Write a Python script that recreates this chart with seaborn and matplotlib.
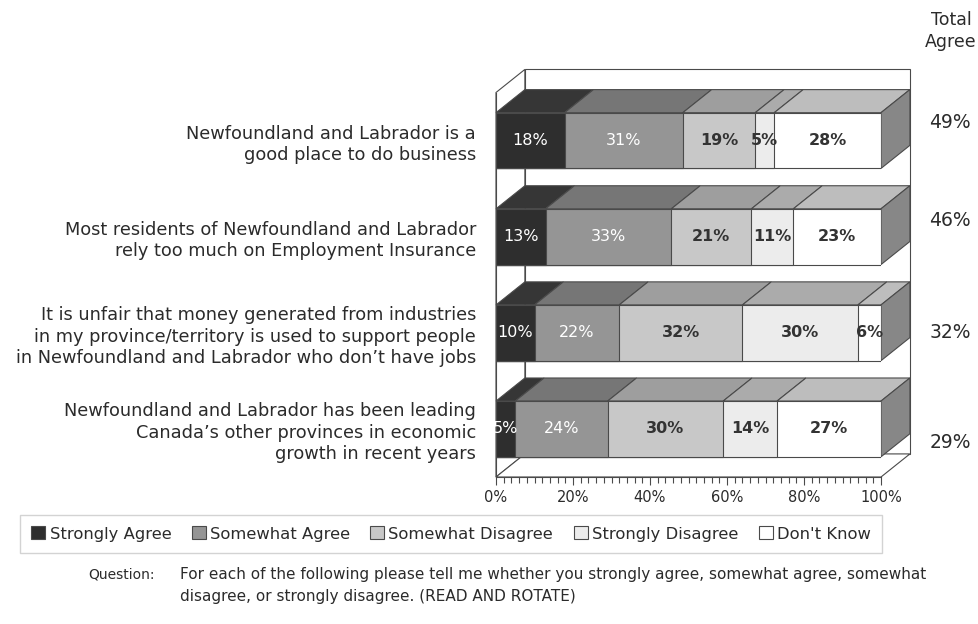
import numpy as np
import pandas as pd
import matplotlib
matplotlib.use("Agg")
import matplotlib.pyplot as plt
from matplotlib.patches import Polygon, Patch
import seaborn as sns

categories = [
    "Newfoundland and Labrador is a\ngood place to do business",
    "Most residents of Newfoundland and Labrador\nrely too much on Employment Insurance",
    "It is unfair that money generated from industries\nin my province/territory is used to support people\nin Newfoundland and Labrador who don\u2019t have jobs",
    "Newfoundland and Labrador has been leading\nCanada\u2019s other provinces in economic\ngrowth in recent years",
]
series_names = ["Strongly Agree", "Somewhat Agree", "Somewhat Disagree",
                "Strongly Disagree", "Don't Know"]
strongly_agree = [18, 13, 10, 5]
somewhat_agree = [31, 33, 22, 24]
somewhat_disagree = [19, 21, 32, 30]
strongly_disagree = [5, 11, 30, 14]
dont_know = [28, 23, 6, 27]
total_agree = [49, 46, 32, 29]
x_ticks = [0, 20, 40, 60, 80, 100]

front_colors = ["#2e2e2e", "#959595", "#c8c8c8", "#ececec", "#ffffff"]
top_colors = ["#363636", "#767676", "#9e9e9e", "#ababab", "#bdbdbd"]
side_color = "#878787"
label_colors = ["white", "white", "#333333", "#333333", "#333333"]
edge = "#4a4a4a"

sns.set_theme(style="white")
plt.rcParams["font.family"] = ["DejaVu Sans"]
text_color = "#2b2b2b"

fig = plt.figure(figsize=(9.79, 6.24), dpi=100)
ax = fig.add_axes([496 / 979, 1 - 477 / 624, 385 / 979, (477 - 92.5) / 624])

vals = np.array([strongly_agree, somewhat_agree, somewhat_disagree,
                 strongly_disagree, dont_know], dtype=float).T
shares = vals / vals.sum(axis=1, keepdims=True) * 100
cum = np.cumsum(shares, axis=1)
left = cum - shares

bar_h = 0.58
dx, dy = 7.5, 0.24
n = len(categories)
y0, y1 = -0.5, n - 0.5

# back wall, left wall, floor
wall = dict(facecolor="white", edgecolor=edge, linewidth=0.8, clip_on=False)
ax.add_patch(Polygon([(dx, y0 - dy), (100 + dx, y0 - dy), (100 + dx, y1 - dy), (dx, y1 - dy)], zorder=0.5, **wall))
ax.add_patch(Polygon([(0, y0), (dx, y0 - dy), (dx, y1 - dy), (0, y1)], zorder=0.6, **wall))
ax.add_patch(Polygon([(0, y1), (dx, y1 - dy), (100 + dx, y1 - dy), (100, y1)], zorder=0.7, **wall))

# front faces: overlapping cumulative bars
df = pd.DataFrame(cum, columns=series_names)
df["q"] = categories
for j in reversed(range(len(series_names))):
    sns.barplot(data=df, x=series_names[j], y="q", orient="h", color=front_colors[j],
                saturation=1, width=bar_h, edgecolor=edge, linewidth=0.8, ax=ax, zorder=3)

# top and side faces
for i in range(n):
    yt = i - bar_h / 2
    for j in range(len(series_names)):
        l, r = left[i, j], cum[i, j]
        ax.add_patch(Polygon([(l, yt), (r, yt), (r + dx, yt - dy), (l + dx, yt - dy)],
                             facecolor=top_colors[j], edgecolor=edge, linewidth=0.8,
                             clip_on=False, zorder=2))
    r = cum[i, -1]
    ax.add_patch(Polygon([(r, yt), (r + dx, yt - dy), (r + dx, yt + bar_h - dy), (r, yt + bar_h)],
                         facecolor=side_color, edgecolor=edge, linewidth=0.8,
                         clip_on=False, zorder=2))
    for j in range(len(series_names)):
        dark = j < 2
        ax.text(left[i, j] + shares[i, j] / 2, i, f"{int(vals[i, j])}%",
                ha="center", va="center", fontsize=11.5,
                color=label_colors[j], fontweight="normal" if dark else "bold", zorder=5)

ax.set_xlim(0, 100)
ax.set_ylim(y1, y0)
ax.patch.set_visible(False)
ax.set_xlabel("")
ax.set_ylabel("")
ax.set_xticks(x_ticks)
ax.set_xticklabels([f"{t}%" for t in x_ticks], fontsize=10.5, color=text_color)
ax.set_xticks(np.arange(0, 101, 2), minor=True)
ax.tick_params(axis="x", which="major", direction="out", length=6, width=0.8, color=edge, pad=3, bottom=True)
ax.tick_params(axis="x", which="minor", direction="out", length=4, width=0.8, color=edge, bottom=True)
ax.tick_params(axis="y", length=0, pad=14.4)
for lab in ax.get_yticklabels():
    lab.set_fontsize(12.8)
    lab.set_color(text_color)
    lab.set_linespacing(1.25)
for s in ["top", "right"]:
    ax.spines[s].set_visible(False)
for s in ["left", "bottom"]:
    ax.spines[s].set_color(edge)
    ax.spines[s].set_linewidth(0.8)
    ax.spines[s].set_zorder(4)

# total agree column
fig.text(951 / 979, 1 - 31 / 624, "Total\nAgree", ha="center", va="center",
         fontsize=12.5, color=text_color, linespacing=1.35)
total_y_px = [123, 220, 333, 443]
for v, ypx in zip(total_agree, total_y_px):
    fig.text(950 / 979, 1 - ypx / 624, f"{v}%", ha="center", va="center",
             fontsize=13.5, color=text_color)

handles = [Patch(facecolor=c, edgecolor=edge, linewidth=0.8) for c in front_colors]
leg = fig.legend(handles, series_names, loc="center", mode="expand", ncol=5,
                 bbox_to_anchor=(20 / 979, 1 - 556 / 624, 862 / 979, 44 / 624),
                 frameon=True, fancybox=False, edgecolor="#c8c8c8", fontsize=11.8,
                 handlelength=0.85, handleheight=0.85, handletextpad=0.25,
                 borderaxespad=0, borderpad=0.7)
for t in leg.get_texts():
    t.set_color(text_color)

fig.text(155 / 979, 1 - 575 / 624, "Question:", ha="right", va="center",
         fontsize=10, color=text_color)
fig.text(180 / 979, 1 - 575 / 624,
         "For each of the following please tell me whether you strongly agree, somewhat agree, somewhat",
         ha="left", va="center", fontsize=11, color=text_color)
fig.text(180 / 979, 1 - 597 / 624, "disagree, or strongly disagree. (READ AND ROTATE)",
         ha="left", va="center", fontsize=11, color=text_color)

fig.savefig("out.png", dpi=100)
